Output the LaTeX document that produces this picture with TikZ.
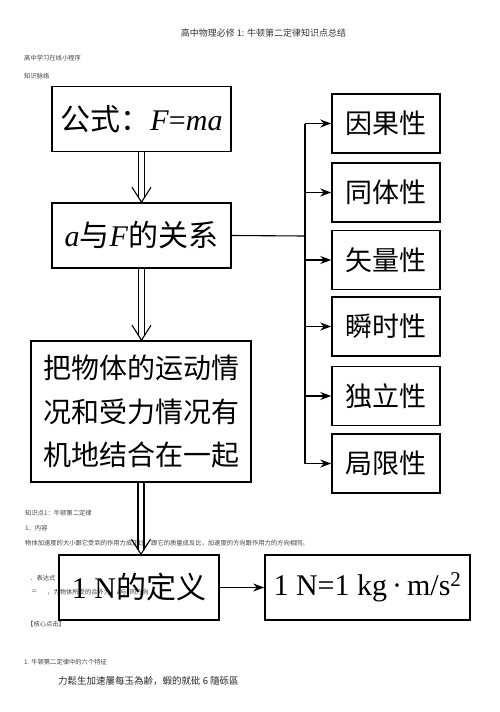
\documentclass[tikz,border=0pt]{standalone}
\usepackage{fontspec}
\setmainfont{Liberation Serif}
\newfontfamily\cjk{Noto Sans CJK SC}
\usetikzlibrary{arrows.meta,calc}
\tikzset{
    box/.style={draw, line width=1.6pt, inner sep=0pt, minimum height=65pt},
    boxtext/.style={font=\fontsize{30}{36}\selectfont},
    prop/.style={box, minimum width=108pt, minimum height=59pt, font=\cjk\fontsize{27}{32}\selectfont},
    note/.style={anchor=west, inner sep=0pt, text=black!75, font=\cjk\fontsize{6.3}{7}\selectfont},
    link/.style={line width=1.1pt},
    arr/.style={link, -{Stealth[length=11pt, width=8pt]}},
}
\newcommand{\dblarrow}[2]{%
    \coordinate (dtip) at (#1.south |- #2.north);
    \draw[link] ($(#1.south)+(-3pt,0)$) -- ($(dtip)+(-3pt,4.7pt)$);
    \draw[link] ($(#1.south)+(3pt,0)$) -- ($(dtip)+(3pt,4.7pt)$);
    \draw[link] ($(dtip)+(-9.5pt,15pt)$) -- (dtip) -- ($(dtip)+(9.5pt,15pt)$);
}
\begin{document}
\begin{tikzpicture}[x=1pt, y=-1pt]
    \useasboundingbox (0,0) rectangle (500,712);
    \node[text=black!80, font=\cjk\fontsize{9}{11}\selectfont] (title) at (263.5,33) {高中物理必修 1: 牛顿第二定律知识点总结};
    \node[note] (app) at (24,58) {高中学习在线小程序};
    \node[note] (context) at (24,76) {知识脉络};
    \node[note] (point) at (25,513) {知识点1：牛顿第二定律};
    \node[note] (content) at (25,528) {1．内容};
    \node[note] (law) at (25,543) {物体加速度的大小跟它受到的作用力成正比，跟它的质量成反比，加速度的方向跟作用力的方向相同。};
    \node[note] (expr) at (30,578) {．表达式};
    \node[note] (eq) at (31,592) {＝};
    \node[note] (eqtext) at (47,592) {，为物体所受的合外力，a与F同方向};
    \node[note] (core) at (27,624) {【核心点击】};
    \node[note] (six) at (24,662) {1. 牛顿第二定律中的六个特征};
    \node[note, text=black!85, font=\cjk\fontsize{9.5}{11}\selectfont] (garbled) at (58,681) {力鬆生加速屢每玉為齢，蝦的就砒 6 隨砾區};

    \node[box, boxtext, minimum width=179pt] (formula) at (141.5,119) {{\cjk 公式：}\textit{F}=\textit{ma}};
    \node[box, boxtext, minimum width=179pt] (rel) at (141.5,235.5) {\textit{a}{\cjk 与}\textit{F}{\cjk 的关系}};
    \node[box, minimum width=220pt, minimum height=141pt, align=center, font=\cjk\fontsize{28}{43.5}\selectfont] (combine) at (141,411.5)
        {把物体的运动情\\况和受力情况有\\机地结合在一起};
    \node[box, boxtext, minimum width=160pt] (unit) at (139,587.5) {1 N{\cjk 的定义}};
    \node[box, boxtext, minimum width=205pt] (unitdef) at (367.5,587.5) {1 N=1 kg\,·\,m/s\textsuperscript{2}};

    \dblarrow{formula}{rel}
    \dblarrow{rel}{combine}
    \dblarrow{combine}{unit}
    \draw[arr] (unit) -- (unitdef);

    \foreach \name/\txt/\y in {p1/因果性/123.5, p2/同体性/192.5, p3/矢量性/260, p4/瞬时性/326.5, p5/独立性/396, p6/局限性/463.5}
        \node[prop] (\name) at (386,\y) {\txt};
    \coordinate (trunk) at (305,236);
    \draw[link] (rel.east) -- (trunk);
    \draw[link] (trunk |- p1.west) -- (trunk |- p6.west);
    \foreach \i in {1,...,6}
        \draw[arr] (trunk |- p\i.west) -- (p\i.west);
\end{tikzpicture}
\end{document}
